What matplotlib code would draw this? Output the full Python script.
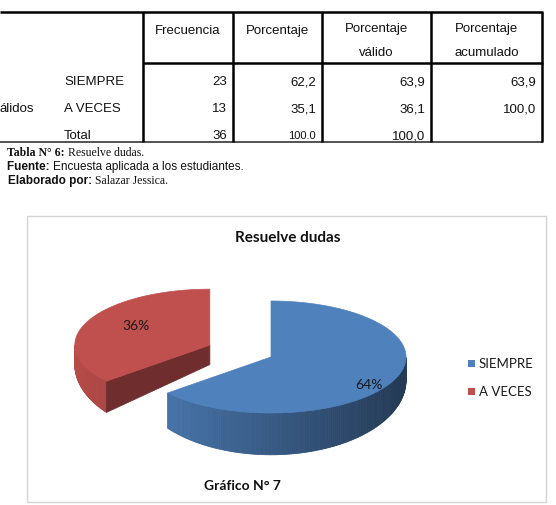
import numpy as np
import matplotlib.pyplot as plt
from matplotlib.patches import Polygon, Rectangle
from matplotlib.colors import to_rgb

# --- tabla ---
encabezados = ["Frecuencia", "Porcentaje", "Porcentaje\nválido", "Porcentaje\nacumulado"]
filas = ["SIEMPRE", "A VECES", "Total"]
grupo = "álidos"
frecuencia = ["23", "13", "36"]
porcentaje = ["62,2", "35,1", "100.0"]
porc_valido = ["63,9", "36,1", "100,0"]
porc_acum = ["63,9", "100,0", ""]

# --- grafico ---
categorias = ["SIEMPRE", "A VECES"]
valores = [23, 13]
colores = ["#4F81BD", "#C0504D"]
titulo = "Resuelve dudas"

fig = plt.figure(figsize=(5.56, 5.06), dpi=100)
ax = fig.add_axes([0, 0, 1, 1])
ax.set_xlim(0, 556)
ax.set_ylim(506, 0)
ax.axis("off")
r = fig.canvas.get_renderer()

# tabla
col_x = [143, 233, 322, 431, 542]
top, sep, bot = 13, 64, 143
ax.plot([0, 543], [top, top], color="k", lw=1.8, solid_capstyle="butt")
ax.plot([col_x[0], 543], [sep, sep], color="k", lw=1.8, solid_capstyle="butt")
ax.plot([0, 543], [bot, bot], color="#444444", lw=1.3, solid_capstyle="butt")
for x in col_x:
    ax.plot([x, x], [top, bot], color="k", lw=1.8, solid_capstyle="butt")

tfont = dict(family="Liberation Sans", fontsize=9.5, color="#111111")
for i, h in enumerate(encabezados):
    xc = (col_x[i] + col_x[i + 1]) / 2
    lineas = h.split("\n")
    for j, linea in enumerate(lineas):
        y0 = 31 if len(lineas) == 1 else 29 + 24 * j
        ax.text(xc, y0, linea, ha="center", va="center", **tfont)

row_y = [82, 109, 136]
ax.text(-1, row_y[1], grupo, ha="left", va="center", **tfont)
columnas = [frecuencia, porcentaje, porc_valido, porc_acum]
for k, y in enumerate(row_y):
    ax.text(64, y, filas[k], ha="left", va="center", **tfont)
    for i, col in enumerate(columnas):
        s = col[k]
        f = dict(tfont)
        if "." in s:
            f["fontsize"] = 8
        ax.text(col_x[i + 1] - 6, y, s, ha="right", va="center", **f)


def dos_partes(x, y, a, fa, b, fb):
    t = ax.text(x, y, a, ha="left", va="center", **fa)
    w = t.get_window_extent(renderer=r).width
    ax.text(x + w, y, b, ha="left", va="center", **fb)


serif = dict(family="Liberation Serif", fontsize=8.5, color="#111111")
serif_b = dict(serif, fontweight="bold")
sans = dict(family="Liberation Sans", fontsize=8.5, color="#111111")
sans_b = dict(sans, fontweight="bold")
dos_partes(7, 153, "Tabla N° 6: ", serif_b, "Resuelve dudas.", serif)
dos_partes(7, 167, "Fuente: ", sans_b, "Encuesta aplicada a los estudiantes.", sans)
dos_partes(8, 181, "Elaborado por: ", sans_b, "Salazar Jessica.", serif)

# marco del grafico
ax.add_patch(Rectangle((27, 217), 519, 286, fill=False, edgecolor="#D4D4D4", lw=1))
ax.text(288, 238, titulo, ha="center", va="center", family="Lato",
        fontweight="bold", fontsize=11, color="#111111")
ax.text(242, 486, "Gráfico N° 7", ha="center", va="center", family="Lato",
        fontweight="bold", fontsize=10, color="#111111")

# pastel 3D
cx, cy = 271, 358
rx, ry = 135, 56
explode = [0.0, 0.5]
lbl_r = [0.8, 0.6]


def prof(y):
    return max(8.0, 18 + 0.33 * (y - 342))


def borde(c, t):
    t = np.radians(t)
    return c[0] + rx * np.cos(t), c[1] - ry * np.sin(t)


def sombra(col, f):
    return tuple(np.clip(np.array(to_rgb(col)) * f, 0, 1))


total = sum(valores)
bordes = 90 - 360 * np.concatenate([[0], np.cumsum(valores) / total])
porciones = []
for i in range(len(valores)):
    a0, a1 = bordes[i], bordes[i + 1]
    mid = np.radians((a0 + a1) / 2)
    c = (cx + explode[i] * rx * np.cos(mid), cy - explode[i] * ry * np.sin(mid))
    porciones.append((c[1], i, a0, a1, mid, c))

for _, i, a0, a1, mid, c in sorted(porciones):
    col = colores[i]
    # lado exterior
    ts = np.linspace(a1, a0, 240)
    for t0, t1 in zip(ts[:-1], ts[1:]):
        tm = np.radians((t0 + t1) / 2)
        if np.sin(tm) >= 0:
            continue
        p0, p1 = borde(c, t0), borde(c, t1)
        q = [p0, p1, (p1[0], p1[1] + prof(p1[1])), (p0[0], p0[1] + prof(p0[1]))]
        fc = sombra(col, 0.7 - 0.25 * np.cos(tm))
        ax.add_patch(Polygon(q, closed=True, facecolor=fc, edgecolor=fc, lw=0.6))
    # paredes de corte
    for a, n in ((a0, a0 + 90), (a1, a1 - 90)):
        if np.sin(np.radians(n)) < -1e-6:
            p = borde(c, a)
            q = [c, p, (p[0], p[1] + prof(p[1])), (c[0], c[1] + prof(c[1]))]
            fc = sombra(col, 0.58)
            ax.add_patch(Polygon(q, closed=True, facecolor=fc, edgecolor=fc, lw=0.6))
    # cara superior
    arco = [borde(c, t) for t in np.linspace(a0, a1, 200)]
    ax.add_patch(Polygon([c] + arco, closed=True, facecolor=col, edgecolor=col, lw=0.5))
    pct = 100 * valores[i] / total
    lx = c[0] + lbl_r[i] * rx * np.cos(mid)
    ly = c[1] - lbl_r[i] * ry * np.sin(mid) * 1.4
    ax.text(lx, ly, f"{pct:.0f}%", ha="center", va="center", family="Lato",
            fontsize=10, color="#1A1A1A")

# leyenda
for i, cat in enumerate(categorias):
    y = 364 + 28 * i
    ax.add_patch(Rectangle((468, y - 3.5), 7, 7, facecolor=colores[i], edgecolor="none"))
    ax.text(479, y, cat, ha="left", va="center", family="Lato", fontsize=9.5,
            color="#1A1A1A")

fig.savefig("out.png", dpi=100)
